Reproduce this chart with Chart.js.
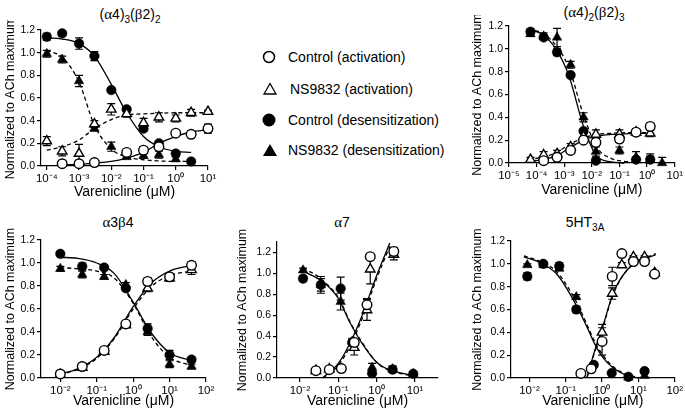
<!DOCTYPE html>
<html>
<head>
<meta charset="utf-8">
<title>Varenicline concentration-response curves</title>
<script src="https://cdn.jsdelivr.net/npm/chart.js@4.4.0/dist/chart.umd.min.js"></script>
<style>
  html, body { margin: 0; padding: 0; background: #fff; }
  body { width: 685px; height: 414px; position: relative; overflow: hidden;
         font-family: "Liberation Sans", Arial, sans-serif; color: #000; }
  canvas { position: absolute; }
  .ttl { position: absolute; font-size: 14px; white-space: nowrap; transform: translate(-50%, -50%); }
  .ttl .g { font-family: "Liberation Serif", "Times New Roman", serif; font-size: 15px; }
  .ttl sub { font-size: 10px; vertical-align: -4px; line-height: 0; }
  .leg-icon { position: absolute; width: 16px; height: 16px; }
  .leg-text { position: absolute; font-size: 14px; white-space: nowrap; line-height: 16px; }
</style>
</head>
<body>

<div class="ttl" style="left:130px; top:14px">(<span class="g">α</span>4)<sub>3</sub>(<span class="g">β</span>2)<sub>2</sub></div>
<div class="ttl" style="left:594px; top:12px">(<span class="g">α</span>4)<sub>2</sub>(<span class="g">β</span>2)<sub>3</sub></div>
<div class="ttl" style="left:118px; top:222px"><span class="g">α</span>3<span class="g">β</span>4</div>
<div class="ttl" style="left:342px; top:222px"><span class="g">α</span>7</div>
<div class="ttl" style="left:585px; top:222px">5HT<sub>3A</sub></div>

<svg class="leg-icon" style="left:261px; top:49px" viewBox="0 0 16 16"><circle cx="8" cy="8" r="5.5" fill="#fff" stroke="#000" stroke-width="1.5"/></svg>
<div class="leg-text" style="left:288px; top:49px">Control (activation)</div>
<svg class="leg-icon" style="left:262px; top:81px" viewBox="0 0 16 16"><polygon points="8,2.5 14,13 2,13" fill="#fff" stroke="#000" stroke-width="1.3"/></svg>
<div class="leg-text" style="left:290px; top:81px">NS9832 (activation)</div>
<svg class="leg-icon" style="left:261px; top:112px" viewBox="0 0 16 16"><circle cx="8" cy="8" r="6.5" fill="#000"/></svg>
<div class="leg-text" style="left:288px; top:112px">Control (desensitization)</div>
<svg class="leg-icon" style="left:262px; top:142px" viewBox="0 0 16 16"><polygon points="8,2 15,14 1,14" fill="#000"/></svg>
<div class="leg-text" style="left:288px; top:142px">NS9832 (desensitization)</div>

<script>
// =======================
// DATA
// =======================
const yTicks = [0, 0.2, 0.4, 0.6, 0.8, 1.0, 1.2];

// ---- (α4)3(β2)2 ----
const ls_xTicks = [1e-4, 1e-3, 1e-2, 1e-1, 1, 10];
const ls_dose = [1e-4, 3e-4, 1e-3, 3e-3, 1e-2, 3e-2, 0.1, 0.3, 1, 3, 10];
const ls_ctrlAct = [null, 0.02, 0.02, 0.03, null, 0.12, 0.14, 0.17, 0.29, 0.28, 0.33];
const ls_ctrlActSem = [0, 0.01, 0.01, 0.01, 0, 0.01, 0.03, 0.03, 0.02, 0.03, 0.04];
const ls_nsAct = [0.22, 0.13, 0.11, 0.37, 0.50, 0.46, 0.38, 0.43, 0.42, 0.47, 0.48];
const ls_nsActSem = [0.04, 0.04, 0.08, 0.03, 0.05, 0.03, 0.04, 0.04, 0.03, 0.03, 0.01];
const ls_ctrlDes = [1.14, 1.17, 1.08, 0.97, 0.67, 0.50, 0.33, 0.20, 0.11, 0.04, null];
const ls_ctrlDesSem = [0.03, 0.02, 0.05, 0.04, 0.01, 0.02, 0.02, 0.01, 0.02, 0.01, 0];
const ls_nsDes = [0.99, 0.94, 0.75, 0.33, 0.17, 0.08, 0.09, 0.10, 0.06, null, null];
const ls_nsDesSem = [0.03, 0.03, 0.05, 0.02, 0.04, 0.01, 0.02, 0.03, 0.02, 0, 0];
const ls_fitDose = [1e-4, 3e-4, 1e-3, 3e-3, 1e-2, 3e-2, 0.1, 0.3, 1, 3, 10];
const ls_fitCtrlAct = [null, 0.01, 0.015, 0.025, 0.04, 0.07, 0.12, 0.20, 0.26, 0.30, 0.32];
const ls_fitNsAct = [0.14, 0.17, 0.23, 0.33, 0.41, 0.45, 0.46, 0.465, 0.47, 0.47, 0.47];
const ls_fitCtrlDes = [1.13, 1.12, 1.08, 0.97, 0.72, 0.47, 0.26, 0.17, 0.13, 0.12, null];
const ls_fitNsDes = [1.02, 0.96, 0.74, 0.36, 0.15, 0.08, 0.055, 0.045, 0.04, 0.04, null];

// ---- (α4)2(β2)3 ----
const hs_xTicks = [1e-5, 1e-4, 1e-3, 1e-2, 1e-1, 1, 10];
const hs_dose = [6e-5, 1.8e-4, 5.5e-4, 1.7e-3, 5e-3, 1.4e-2, 0.1, 0.4, 1.3, 3.5];
const hs_ctrlAct = [null, 0.02, 0.05, 0.11, 0.20, 0.18, 0.21, 0.27, 0.32, null];
const hs_ctrlActSem = [0, 0.01, 0.02, 0.02, 0.02, 0.03, 0.03, 0.02, 0.03, 0];
const hs_nsAct = [0.03, 0.07, 0.08, 0.14, 0.23, 0.25, 0.25, 0.27, 0.26, null];
const hs_nsActSem = [0.02, 0.03, 0.03, 0.03, 0.03, 0.04, 0.04, 0.03, 0.03, 0];
const hs_ctrlDes = [1.15, 1.10, 0.97, 0.77, 0.28, 0.02, null, 0.03, 0.03, null];
const hs_ctrlDesSem = [0.02, 0.02, 0.03, 0.02, 0.02, 0.01, 0, 0.02, 0.03, 0];
const hs_nsDes = [1.13, 1.11, 1.10, 0.86, 0.40, 0.10, 0.11, 0.05, 0.03, 0.0];
const hs_nsDesSem = [0.02, 0.03, 0.08, 0.03, 0.04, 0.04, 0.03, 0.05, 0.05, 0.05];
const hs_fitDose = [5e-5, 1.5e-4, 5e-4, 1.5e-3, 5e-3, 1.5e-2, 5e-2, 0.15, 0.5, 1.3];
const hs_fitCtrlAct = [0.01, 0.03, 0.06, 0.13, 0.20, 0.235, 0.25, 0.255, 0.26, 0.26];
const hs_fitNsAct = [0.03, 0.05, 0.09, 0.16, 0.22, 0.25, 0.26, 0.265, 0.265, 0.265];
const hs_fitCtrlDes = [1.17, 1.13, 1.00, 0.76, 0.32, 0.06, 0.01, 0.0, null, null];
const hs_fitNsDes = [1.17, 1.14, 1.03, 0.83, 0.42, 0.14, 0.04, 0.015, 0.005, 0.0];

// ---- α3β4 ----
const a3b4_xTicks = [1e-2, 1e-1, 1, 10, 100];
const a3b4_dose = [0.01, 0.04, 0.16, 0.63, 2.5, 10, 40];
const a3b4_ctrlAct = [0.035, 0.10, 0.24, 0.47, 0.84, 0.88, 0.98];
const a3b4_ctrlActSem = [0.01, 0.01, 0.02, 0.02, 0.03, 0.03, 0.03];
const a3b4_nsAct = [0.03, 0.09, 0.23, 0.46, 0.78, 0.87, 0.94];
const a3b4_nsActSem = [0.01, 0.01, 0.02, 0.02, 0.03, 0.03, 0.04];
const a3b4_ctrlDes = [1.08, 0.97, 0.96, 0.78, 0.43, 0.20, 0.16];
const a3b4_ctrlDesSem = [0.02, 0.03, 0.01, 0.02, 0.04, 0.04, 0.02];
const a3b4_nsDes = [0.95, 0.90, 0.88, 0.81, 0.40, 0.12, 0.10];
const a3b4_nsDesSem = [0.02, 0.03, 0.02, 0.02, 0.03, 0.03, 0.02];
const a3b4_fitDose = [0.01, 0.03, 0.1, 0.3, 1, 3, 10, 40];
const a3b4_fitCtrlAct = [0.035, 0.08, 0.18, 0.35, 0.62, 0.82, 0.93, 0.98];
const a3b4_fitNsAct = [0.03, 0.075, 0.17, 0.34, 0.60, 0.79, 0.89, 0.93];
const a3b4_fitCtrlDes = [1.05, 1.04, 1.00, 0.91, 0.66, 0.40, 0.22, 0.15];
const a3b4_fitNsDes = [0.96, 0.95, 0.93, 0.87, 0.65, 0.37, 0.18, 0.11];

// ---- α7 ----
const a7_xTicks = [1e-2, 1e-1, 1, 10];
const a7_doseAct = [0.026, 0.058, 0.12, 0.26, 0.56, 0.68, 2.8];
const a7_ctrlAct = [0.07, 0.08, 0.09, 0.34, 0.70, 1.16, 1.21];
const a7_ctrlActSem = [0.02, 0.02, 0.02, 0.03, 0.06, 0.02, 0.04];
const a7_nsAct = [0.07, 0.085, null, 0.29, 0.65, 1.04, 1.18];
const a7_nsActSem = [0.02, 0.02, 0, 0.07, 0.10, 0.14, 0.05];
const a7_doseDes = [0.012, 0.035, 0.115, 0.23, 0.76, 2.6, 9];
const a7_ctrlDes = [0.95, 0.89, 0.855, 0.34, 0.045, 0.08, 0.04];
const a7_ctrlDesSem = [0.03, 0.06, 0.11, 0.03, 0.01, 0.03, 0.02];
const a7_nsDes = [1.03, 0.89, 0.73, 0.35, 0.10, 0.085, 0.04];
const a7_nsDesSem = [0.02, 0.08, 0.08, 0.03, 0.04, 0.03, 0.02];
const a7_fitDose = [0.012, 0.03, 0.04, 0.1, 0.2, 0.4, 1, 2.2, 3, 10];
const a7_fitCtrlAct = [null, null, 0.005, 0.14, 0.33, 0.58, 0.98, 1.29, null, null];
const a7_fitNsAct = [null, null, 0.0, 0.12, 0.30, 0.55, 0.95, 1.26, null, null];
const a7_fitCtrlDes = [1.02, 0.95, 0.92, 0.76, 0.53, 0.34, 0.15, 0.075, 0.06, 0.02];
const a7_fitNsDes = [1.05, 0.97, 0.93, 0.77, 0.54, 0.35, 0.15, 0.07, 0.055, 0.015];

// ---- 5HT3A ----
const ht3_xTicks = [1e-2, 1e-1, 1, 10, 100];
const ht3_doseAct = [0.26, 0.5, 1.0, 1.9, 3.5, 7.3, 14.8, 28];
const ht3_ctrlAct = [0.04, 0.08, 0.32, 0.89, 1.09, 1.02, 1.02, 0.91];
const ht3_ctrlActSem = [0.01, 0.01, 0.12, 0.08, 0.01, 0.01, 0.01, 0.02];
const ht3_nsAct = [null, null, 0.40, 0.74, 0.99, 1.06, 1.06, 0.92];
const ht3_nsActSem = [0, 0, 0.07, 0.05, 0.02, 0.01, 0.01, 0.01];
const ht3_doseDes = [0.0087, 0.024, 0.066, 0.195, 0.59, 1.84, 5.3, 14.8];
const ht3_ctrlDes = [0.89, 1.00, 0.98, 0.60, 0.115, 0.043, 0.01, 0.06];
const ht3_ctrlDesSem = [0.03, 0.02, 0.03, 0.03, 0.02, 0.01, 0.01, 0.02];
const ht3_nsDes = [0.99, 0.99, 0.96, 0.71, null, null, 0.005, 0.02];
const ht3_nsDesSem = [0.01, 0.01, 0.02, 0.02, 0, 0, 0.01, 0.02];
const ht3_fitDose = [0.007, 0.02, 0.06, 0.2, 0.38, 0.6, 1, 2, 5, 10, 30];
const ht3_fitCtrlAct = [null, null, null, null, 0.0, 0.22, 0.43, 0.74, 0.95, 1.02, 1.08];
const ht3_fitNsAct = [null, null, null, null, 0.0, 0.21, 0.42, 0.73, 0.95, 1.02, 1.09];
const ht3_fitCtrlDes = [1.06, 1.01, 0.90, 0.63, 0.45, 0.31, 0.19, 0.09, 0.02, 0.0, null];
const ht3_fitNsDes = [1.07, 1.02, 0.92, 0.66, 0.47, 0.33, 0.21, 0.10, 0.03, 0.005, null];

// =======================
// HELPERS
// =======================
const SUP = { "-": "\u207B", "0": "\u2070", "1": "\u00B9", "2": "\u00B2", "3": "\u00B3",
              "4": "\u2074", "5": "\u2075", "6": "\u2076" };
function powLabel(v) {
  const p = Math.round(Math.log10(v));
  return "10" + String(p).split("").map(c => SUP[c]).join("");
}

function points(dose, vals, sem) {
  const out = [];
  dose.forEach((x, i) => {
    if (vals[i] === null || vals[i] === undefined) return;
    out.push({ x: x, y: vals[i], e: sem ? sem[i] : 0 });
  });
  return out;
}

// error bars drawn under the markers
const errorBars = {
  id: "errorBars",
  beforeDatasetsDraw(chart) {
    const ctx = chart.ctx;
    const ys = chart.scales.y;
    ctx.save();
    ctx.strokeStyle = "#000";
    ctx.lineWidth = 1.2;
    chart.data.datasets.forEach((ds, i) => {
      if (!ds.withErr) return;
      const meta = chart.getDatasetMeta(i);
      meta.data.forEach((pt, j) => {
        const d = ds.data[j];
        if (!d.e) return;
        const top = ys.getPixelForValue(d.y + d.e);
        const bot = ys.getPixelForValue(Math.max(d.y - d.e, ys.min));
        ctx.beginPath();
        ctx.moveTo(pt.x, top); ctx.lineTo(pt.x, bot);
        ctx.moveTo(pt.x - 4, top); ctx.lineTo(pt.x + 4, top);
        if (d.y - d.e > ys.min) { ctx.moveTo(pt.x - 4, bot); ctx.lineTo(pt.x + 4, bot); }
        ctx.stroke();
      });
    });
    ctx.restore();
  }
};

function markerSet(data, style, filled) {
  return {
    data: data, withErr: true, showLine: false, clip: false,
    pointStyle: style,
    pointRadius: style === "triangle" ? 5.5 : 4.8,
    pointBackgroundColor: filled ? "#000" : "#fff",
    pointBorderColor: "#000",
    pointBorderWidth: filled ? 0.5 : 1.4
  };
}

function curveSet(data, dashed) {
  return {
    data: data, showLine: true, clip: false, pointRadius: 0,
    borderColor: "#000", borderWidth: 1.3, borderDash: dashed ? [4, 3] : [],
    cubicInterpolationMode: "monotone", fill: false
  };
}

// =======================
// PANELS
// =======================
const panels = [
  { box: { left: 0, top: 20, w: 230, h: 185 }, area: { l: 41, t: 10, r: 22, b: 39 },
    xMin: Math.pow(10, -4.18), xMax: 10, yMax: 1.2, xTicks: ls_xTicks,
    doseAct: ls_dose, doseDes: ls_dose, fitDose: ls_fitDose,
    ctrlAct: [ls_ctrlAct, ls_ctrlActSem], nsAct: [ls_nsAct, ls_nsActSem],
    ctrlDes: [ls_ctrlDes, ls_ctrlDesSem], nsDes: [ls_nsDes, ls_nsDesSem],
    fits: [ls_fitCtrlAct, ls_fitNsAct, ls_fitCtrlDes, ls_fitNsDes] },
  { box: { left: 467, top: 15, w: 218, h: 188 }, area: { l: 42, t: 11, r: 10, b: 40 },
    xMin: 1e-5, xMax: 10, yMax: 1.2, xTicks: hs_xTicks,
    doseAct: hs_dose, doseDes: hs_dose, fitDose: hs_fitDose,
    ctrlAct: [hs_ctrlAct, hs_ctrlActSem], nsAct: [hs_nsAct, hs_nsActSem],
    ctrlDes: [hs_ctrlDes, hs_ctrlDesSem], nsDes: [hs_nsDes, hs_nsDesSem],
    fits: [hs_fitCtrlAct, hs_fitNsAct, hs_fitCtrlDes, hs_fitNsDes] },
  { box: { left: 0, top: 228, w: 230, h: 186 }, area: { l: 41, t: 12, r: 24, b: 36 },
    xMin: Math.pow(10, -2.53), xMax: 100, yMax: 1.2, xTicks: a3b4_xTicks,
    doseAct: a3b4_dose, doseDes: a3b4_dose, fitDose: a3b4_fitDose,
    ctrlAct: [a3b4_ctrlAct, a3b4_ctrlActSem], nsAct: [a3b4_nsAct, a3b4_nsActSem],
    ctrlDes: [a3b4_ctrlDes, a3b4_ctrlDesSem], nsDes: [a3b4_nsDes, a3b4_nsDesSem],
    fits: [a3b4_fitCtrlAct, a3b4_fitNsAct, a3b4_fitCtrlDes, a3b4_fitNsDes] },
  { box: { left: 232, top: 228, w: 225, h: 186 }, area: { l: 45, t: 14, r: 19, b: 36 },
    xMin: Math.pow(10, -2.6), xMax: Math.pow(10, 1.6), yMax: 1.3, xTicks: a7_xTicks,
    doseAct: a7_doseAct, doseDes: a7_doseDes, fitDose: a7_fitDose,
    ctrlAct: [a7_ctrlAct, a7_ctrlActSem], nsAct: [a7_nsAct, a7_nsActSem],
    ctrlDes: [a7_ctrlDes, a7_ctrlDesSem], nsDes: [a7_nsDes, a7_nsDesSem],
    fits: [a7_fitCtrlAct, a7_fitNsAct, a7_fitCtrlDes, a7_fitNsDes] },
  { box: { left: 467, top: 228, w: 218, h: 186 }, area: { l: 44, t: 13, r: 7, b: 36 },
    xMin: Math.pow(10, -2.51), xMax: 100, yMax: 1.2, xTicks: ht3_xTicks,
    doseAct: ht3_doseAct, doseDes: ht3_doseDes, fitDose: ht3_fitDose,
    ctrlAct: [ht3_ctrlAct, ht3_ctrlActSem], nsAct: [ht3_nsAct, ht3_nsActSem],
    ctrlDes: [ht3_ctrlDes, ht3_ctrlDesSem], nsDes: [ht3_nsDes, ht3_nsDesSem],
    fits: [ht3_fitCtrlAct, ht3_fitNsAct, ht3_fitCtrlDes, ht3_fitNsDes] }
];

Chart.defaults.font.family = '"Liberation Sans", Arial, sans-serif';
Chart.defaults.color = "#000";

function buildPanel(p) {
  const canvas = document.createElement("canvas");
  canvas.width = p.box.w; canvas.height = p.box.h;
  canvas.style.left = p.box.left + "px"; canvas.style.top = p.box.top + "px";
  canvas.style.width = p.box.w + "px"; canvas.style.height = p.box.h + "px";
  document.body.appendChild(canvas);

  const datasets = [
    markerSet(points(p.doseAct, p.ctrlAct[0], p.ctrlAct[1]), "circle", false),
    markerSet(points(p.doseAct, p.nsAct[0], p.nsAct[1]), "triangle", false),
    markerSet(points(p.doseDes, p.ctrlDes[0], p.ctrlDes[1]), "circle", true),
    markerSet(points(p.doseDes, p.nsDes[0], p.nsDes[1]), "triangle", true),
    curveSet(points(p.fitDose, p.fits[0]), false),
    curveSet(points(p.fitDose, p.fits[1]), true),
    curveSet(points(p.fitDose, p.fits[2]), false),
    curveSet(points(p.fitDose, p.fits[3]), true)
  ];

  new Chart(canvas.getContext("2d"), {
    type: "scatter",
    data: { datasets: datasets },
    plugins: [errorBars],
    options: {
      responsive: false,
      animation: false,
      devicePixelRatio: 1,
      layout: { padding: { left: 0, top: p.area.t, right: p.area.r, bottom: 0 } },
      plugins: { legend: { display: false }, tooltip: { enabled: false } },
      scales: {
        x: {
          type: "logarithmic", position: "bottom", min: p.xMin, max: p.xMax,
          afterBuildTicks: s => { s.ticks = p.xTicks.map(v => ({ value: v })); },
          afterFit: s => { s.height = p.area.b; },
          ticks: { callback: v => powLabel(v), font: { size: 11.5 }, padding: 2,
                   maxRotation: 0, autoSkip: false },
          grid: { drawOnChartArea: false, drawTicks: true, tickLength: 4, color: "#000", lineWidth: 1.2 },
          border: { display: true, color: "#000", width: 1.2 },
          title: { display: true, text: "Varenicline (\u03BCM)", font: { size: 14 },
                   padding: { top: 0, bottom: 4 } }
        },
        y: {
          min: 0, max: p.yMax,
          afterBuildTicks: s => { s.ticks = yTicks.map(v => ({ value: v })); },
          afterFit: s => { s.width = p.area.l; },
          ticks: { callback: v => v.toFixed(1), font: { size: 10.5 }, padding: 2 },
          grid: { drawOnChartArea: false, drawTicks: true, tickLength: 4, color: "#000", lineWidth: 1.2 },
          border: { display: true, color: "#000", width: 1.2 },
          title: { display: true, text: "Normalized to ACh maximum", font: { size: 12.5 },
                   padding: { top: 3, bottom: 0 } }
        }
      }
    }
  });
}

panels.forEach(buildPanel);
</script>
</body>
</html>
